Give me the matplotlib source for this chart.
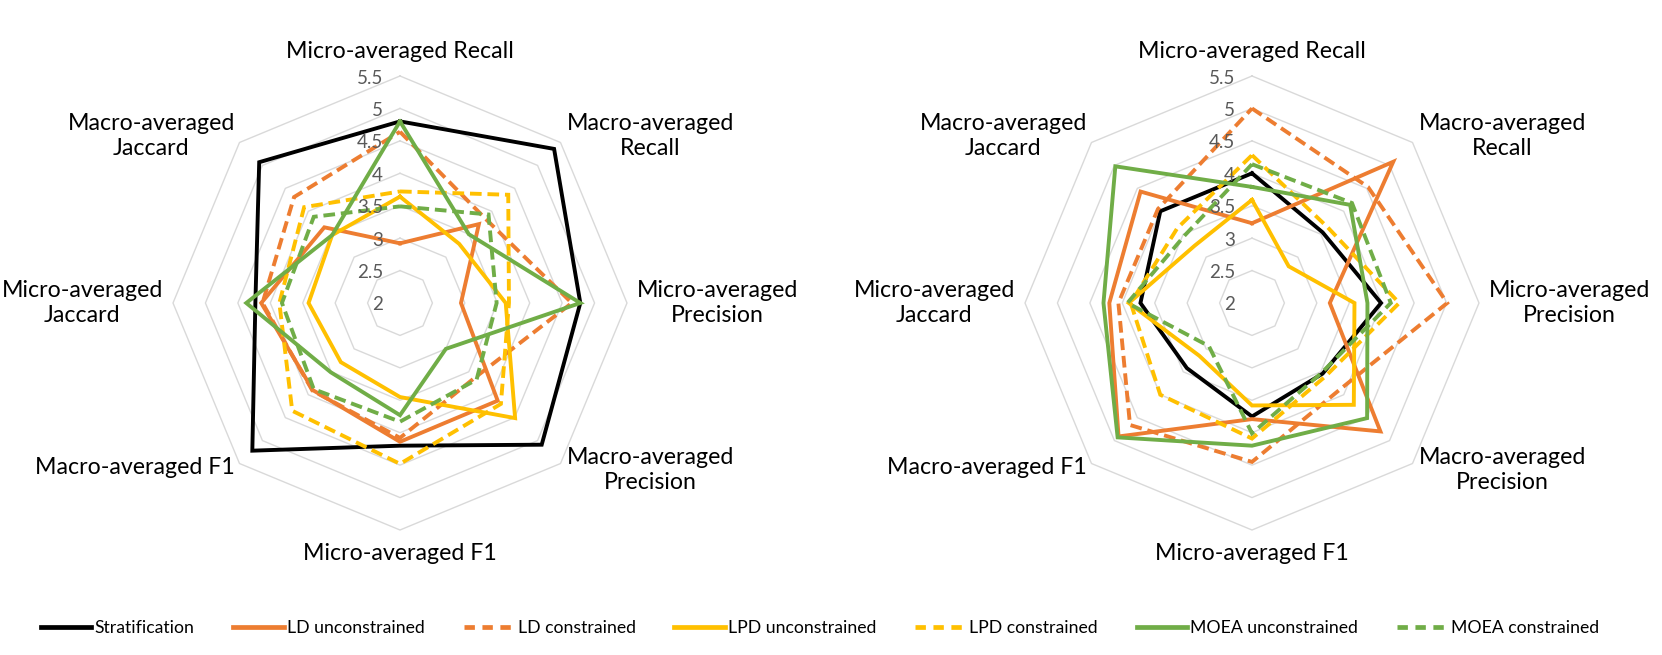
import numpy as np
import matplotlib
matplotlib.use("Agg")
import matplotlib.pyplot as plt
from matplotlib.transforms import offset_copy
from matplotlib.lines import Line2D

plt.rcParams['font.family'] = ['Lato', 'DejaVu Sans']

# ---- data -------------------------------------------------------------
categories = ["Micro-averaged Recall", "Macro-averaged\nRecall", "Micro-averaged\nPrecision",
              "Macro-averaged\nPrecision", "Micro-averaged F1", "Macro-averaged F1",
              "Micro-averaged\nJaccard", "Macro-averaged\nJaccard"]
series_names = ["Stratification", "LD unconstrained", "LD constrained",
                "LPD unconstrained", "LPD constrained", "MOEA unconstrained", "MOEA constrained"]
tick_values = [2, 2.5, 3, 3.5, 4, 4.5, 5, 5.5]
tick_labels = ["2", "2.5", "3", "3.5", "4", "4.5", "5", "5.5"]

# left chart
left_strat = [4.80, 5.36, 4.78, 5.09, 4.20, 5.22, 4.23, 5.07]
left_ld_u = [2.92, 3.72, 2.94, 4.13, 4.14, 3.90, 4.14, 3.65]
left_ld_c = [4.64, 3.85, 4.65, 3.63, 4.08, 3.91, 4.12, 4.31]
left_lpd_u = [3.64, 3.29, 3.63, 4.51, 3.45, 3.29, 3.41, 3.48]
left_lpd_c = [3.72, 4.36, 3.68, 4.20, 4.48, 4.35, 3.86, 4.09]
left_moea_u = [4.80, 3.50, 4.78, 3.00, 3.73, 3.51, 4.37, 3.48]
left_moea_c = [3.49, 3.93, 3.49, 3.67, 3.83, 3.88, 3.82, 3.88]

# right chart
right_strat = [4.00, 3.54, 3.99, 3.54, 3.75, 3.42, 3.72, 4.00]
right_ld_u = [3.23, 5.08, 3.20, 4.80, 3.79, 4.91, 4.20, 4.43]
right_ld_c = [5.00, 4.53, 5.01, 3.90, 4.45, 4.66, 4.06, 4.05]
right_lpd_u = [3.59, 2.80, 3.58, 4.22, 3.58, 3.15, 3.90, 3.25]
right_lpd_c = [4.28, 3.65, 4.27, 3.60, 4.09, 4.00, 3.87, 3.63]
right_moea_u = [3.79, 4.14, 3.78, 4.51, 4.20, 4.93, 4.29, 4.98]
right_moea_c = [4.14, 4.18, 4.14, 3.52, 4.01, 2.94, 3.92, 3.47]

left_data = [left_strat, left_ld_u, left_ld_c, left_lpd_u, left_lpd_c, left_moea_u, left_moea_c]
right_data = [right_strat, right_ld_u, right_ld_c, right_lpd_u, right_lpd_c, right_moea_u, right_moea_c]

# ---- styles -----------------------------------------------------------
colors = ["#000000", "#ED7D31", "#ED7D31", "#FFC000", "#FFC000", "#70AD47", "#70AD47"]
dashed = [False, False, True, False, True, False, True]
LW = 2.8
DASH = (3.0, 1.5)
GRID = "#D9D9D9"

W, H = 1662, 655
fig = plt.figure(figsize=(W / 100, H / 100), dpi=100)

R_PX = 227
centers = [(400, 303), (1252, 303)]

# label offsets (pixels from centre, y up) and alignments
label_pos = [(0, 252, 'center'), (167, 167, 'left'), (237, 0, 'left'), (167, -167, 'left'),
             (0, -251, 'center'), (-165, -164, 'right'), (-237, 0, 'right'), (-165, 167, 'right')]

n = len(categories)
angles = np.arange(n) * 2 * np.pi / n
ang_closed = np.concatenate([angles, angles[:1]])


def draw_radar(center, data):
    cx, cy = center
    ax = fig.add_axes([(cx - R_PX) / W, (H - cy - R_PX) / H, 2 * R_PX / W, 2 * R_PX / H],
                      projection='polar')
    ax.set_theta_zero_location('N')
    ax.set_theta_direction(-1)
    ax.set_ylim(tick_values[0], tick_values[-1])
    ax.grid(False)
    ax.set_xticks([])
    ax.set_yticks([])
    ax.spines['polar'].set_visible(False)
    ax.patch.set_visible(False)
    # octagon gridlines
    for v in tick_values[1:]:
        ax.plot(ang_closed, [v] * (n + 1), color=GRID, lw=1.0, zorder=0, clip_on=False)
    # tick labels
    tl_tr = offset_copy(ax.transData, fig=fig, x=-17, y=-2, units='dots')
    for v, t in zip(tick_values, tick_labels):
        ax.text(0, v, t, transform=tl_tr, ha='right', va='center', fontsize=13.5,
                color='#595959', clip_on=False)
    # series
    for vals, c, d in zip(data, colors, dashed):
        v = np.concatenate([vals, vals[:1]])
        line, = ax.plot(ang_closed, v, color=c, lw=LW, clip_on=False,
                        solid_joinstyle='miter', dash_joinstyle='miter', zorder=2)
        if d:
            line.set_dashes(DASH)
            line.set_dash_capstyle('butt')
    # category labels
    for lab, (dx, dy, ha) in zip(categories, label_pos):
        tr = offset_copy(ax.transAxes, fig=fig, x=dx, y=dy, units='dots')
        ax.text(0.5, 0.5, lab, transform=tr, ha=ha, va='center', multialignment='center',
                fontsize=16.7, color='#000000', clip_on=False, linespacing=1.2)
    return ax


draw_radar(centers[0], left_data)
draw_radar(centers[1], right_data)

handles = []
for name, c, d in zip(series_names, colors, dashed):
    h = Line2D([], [], color=c, lw=LW + 0.6)
    if d:
        h.set_dashes((2.2, 1.6))
    handles.append(h)
fig.legend(handles, series_names, loc='center', bbox_to_anchor=(820 / W, 1 - 628 / H),
           ncol=7, frameon=False, fontsize=12.7, handlelength=2.85, handletextpad=0.2,
           columnspacing=2.2)

fig.savefig("out.png", dpi=100, facecolor='white')
